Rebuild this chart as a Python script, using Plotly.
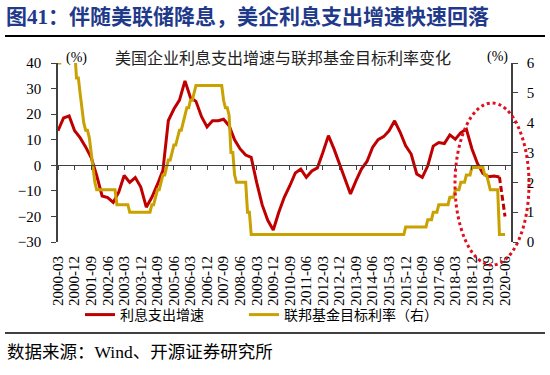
import pandas as pd
import plotly.graph_objects as go

# ---------------- data ----------------
quarters = pd.date_range("2000-03-01", "2020-06-01", freq="3MS")  # 2000-03 ... 2020-06

interest_growth = [
    13.5, 18.5, 19.3, 13.5, 10.8, 7.2, 3.0, -4.0, -12.0, -12.6,
    -14.5, -10.5, -4.0, -6.7, -4.8, -8.5, -16.4, -12.5, -7.5, -2.0,
    17.5, 22.0, 25.5, 33.0, 26.5, 25.0, 19.0, 15.0, 17.4, 17.4,
    18.0, 15.5, 10.0, 6.4, 4.0, 3.1, -6.7, -15.5, -21.5, -25.3,
    -18.5, -12.5, -8.0, -3.0, -1.5, -4.7, -2.2, -1.0, 5.0, 11.6,
    6.4, 0.5, -6.0, -11.2, -6.0, -1.4, 1.5, 7.0, 10.0, 11.2,
    13.5, 17.4, 12.9, 7.6, 4.4, -3.4, -4.7, -0.2, 7.5, 8.9,
    8.5, 11.9, 10.2, 12.8, 14.1, 6.5, 0.8, -3.2, -4.5, -4.2,
    -4.6, -20.0,
]

months = pd.date_range("2000-03-01", "2020-06-01", freq="MS")
fed_2000 = [6.0, 6.0, 6.5, 6.5, 6.5, 6.5, 6.5, 6.5, 6.5, 6.5]  # Mar-Dec
fed_2001 = [5.5, 5.5, 5.0, 4.5, 4.0, 3.75, 3.75, 3.5, 3.0, 2.5, 2.0, 1.75]
fed_2002 = [1.75] * 10 + [1.25, 1.25]
fed_2003 = [1.25] * 5 + [1.0] * 7
fed_2004 = [1.0] * 5 + [1.25, 1.25, 1.5, 1.75, 1.75, 2.0, 2.25]
fed_2005 = [2.25, 2.5, 2.75, 2.75, 3.0, 3.25, 3.25, 3.5, 3.75, 3.75, 4.0, 4.25]
fed_2006 = [4.5, 4.5, 4.75, 4.75, 5.0] + [5.25] * 7
fed_2007 = [5.25] * 8 + [4.75, 4.5, 4.5, 4.25]
fed_2008 = [3.0, 3.0, 2.25, 2.0, 2.0, 2.0, 2.0, 2.0, 2.0, 1.0, 1.0, 0.25]
fed_2009_2014 = [0.25] * 72
fed_2015 = [0.25] * 11 + [0.5]
fed_2016 = [0.5] * 11 + [0.75]
fed_2017 = [0.75, 0.75, 1.0, 1.0, 1.0, 1.25, 1.25, 1.25, 1.25, 1.25, 1.25, 1.5]
fed_2018 = [1.5, 1.5, 1.75, 1.75, 1.75, 2.0, 2.0, 2.0, 2.25, 2.25, 2.25, 2.5]
fed_2019 = [2.5] * 6 + [2.25, 2.25, 2.0, 1.75, 1.75, 1.75]
fed_2020 = [1.75, 1.75, 0.25, 0.25, 0.25, 0.25]  # Jan-Jun
fed_rate = (fed_2000 + fed_2001 + fed_2002 + fed_2003 + fed_2004 + fed_2005 + fed_2006
            + fed_2007 + fed_2008 + fed_2009_2014 + fed_2015 + fed_2016 + fed_2017
            + fed_2018 + fed_2019 + fed_2020)

tick_dates = quarters[::3]
tick_labels = [d.strftime("%Y-%m") for d in tick_dates]

title_text = "图41：伴随美联储降息，美企利息支出增速快速回落"
chart_title = "美国企业利息支出增速与联邦基金目标利率变化"
name_red = "利息支出增速"
name_gold = "联邦基金目标利率（右）"
source_text = "数据来源：Wind、开源证券研究所"

# ---------------- style ----------------
RED = "#C00000"
GOLD = "#C9A100"
AX = "#404040"
SERIF = "Liberation Serif, Noto Sans CJK SC"
SANS = "Noto Sans CJK SC"

W, H = 550, 375
L, R, T, B = 58, 39, 63, 133
PW, PH = W - L - R, H - T - B


def xp(px):
    return (px - L) / PW


def yp(py):
    return (H - B - py) / PH


x_range = ["2000-03-01", "2020-09-08"]

fig = go.Figure()

# solid part of interest growth
fig.add_trace(go.Scatter(
    x=quarters[:-1], y=interest_growth[:-1], mode="lines", name=name_red,
    line=dict(color=RED, width=3), xaxis="x", yaxis="y", legend="legend",
))
# last (dashed) segment
fig.add_trace(go.Scatter(
    x=quarters[-2:], y=interest_growth[-2:], mode="lines", showlegend=False,
    line=dict(color=RED, width=3, dash="6px,3px"), xaxis="x2", yaxis="y",
))
# fed funds
fig.add_trace(go.Scatter(
    x=months, y=fed_rate, mode="lines", name=name_gold,
    line=dict(color=GOLD, width=3), xaxis="x", yaxis="y2", legend="legend2",
))

fig.update_layout(
    width=W, height=H, autosize=False,
    margin=dict(l=L, r=R, t=T, b=B, pad=0),
    paper_bgcolor="white", plot_bgcolor="white",
    font=dict(family=SERIF, color="black", size=14),
    xaxis=dict(
        type="date", range=x_range, showgrid=False, zeroline=False, showline=False,
        ticks="", tickvals=tick_dates, ticktext=tick_labels, tickangle=-90,
        tickfont=dict(family=SERIF, size=15, color="black"), ticklabelstandoff=10,
    ),
    xaxis2=dict(
        type="date", range=x_range, overlaying="x", anchor="free", position=3 / 7,
        showgrid=False, zeroline=False, showline=True, linecolor=AX, linewidth=1.2,
        ticks="outside", ticklen=4, tickwidth=1.2, tickcolor=AX,
        tickvals=tick_dates, showticklabels=False,
    ),
    yaxis=dict(
        range=[-30, 40], dtick=10, tick0=0, showgrid=False, zeroline=False,
        showline=True, linecolor=AX, linewidth=1.5, ticks="outside", ticklen=5,
        tickwidth=1.2, tickcolor=AX, tickfont=dict(family=SERIF, size=15),
        ticklabelstandoff=7,
    ),
    yaxis2=dict(
        range=[0, 6], dtick=1, tick0=0, overlaying="y", side="right", anchor="x",
        showgrid=False, zeroline=False, showline=True, linecolor=AX, linewidth=1.5,
        ticks="outside", ticklen=5, tickwidth=1.2, tickcolor=AX,
        tickfont=dict(family=SERIF, size=15), ticklabelstandoff=6,
    ),
    legend=dict(
        x=xp(80), y=yp(315), xanchor="left", yanchor="middle", orientation="h",
        font=dict(family=SANS, size=14, color="black"), bgcolor="rgba(0,0,0,0)",
    ),
    legend2=dict(
        x=xp(244), y=yp(315), xanchor="left", yanchor="middle", orientation="h",
        font=dict(family=SANS, size=14, color="black"), bgcolor="rgba(0,0,0,0)",
    ),
    showlegend=True,
)

annotations = [
    dict(text=f"<b>{title_text}</b>", x=xp(4), y=yp(17), xanchor="left", yanchor="middle",
         font=dict(family=SERIF, size=21, color="#1F3A8A")),
    dict(text=chart_title, x=xp(283), y=yp(57), xanchor="center", yanchor="middle",
         font=dict(family=SANS, size=16, color="#222222")),
    dict(text="(%)", x=xp(76), y=yp(58), xanchor="center", yanchor="middle",
         font=dict(family=SERIF, size=14, color="black")),
    dict(text="(%)", x=xp(497), y=yp(57), xanchor="center", yanchor="middle",
         font=dict(family=SERIF, size=14, color="black")),
    dict(text=source_text, x=xp(5), y=yp(352), xanchor="left", yanchor="middle",
         font=dict(family=SERIF, size=17.5, color="black")),
]
for a in annotations:
    a.update(xref="paper", yref="paper", showarrow=False)
fig.update_layout(annotations=annotations)

shapes = [
    dict(type="line", x0=xp(5), x1=xp(545), y0=yp(36), y1=yp(36),
         line=dict(color="black", width=2)),
    dict(type="line", x0=xp(5), x1=xp(545), y0=yp(333), y1=yp(333),
         line=dict(color="black", width=1.5)),
    dict(type="circle", x0=xp(455), x1=xp(529), y0=yp(265), y1=yp(103),
         line=dict(color="#E01020", width=3, dash="3px,3px")),
]
for s in shapes:
    s.update(xref="paper", yref="paper", layer="above")
fig.update_layout(shapes=shapes)

fig.write_html("out.html", post_script="document.body.style.margin='0';",
               config={"displayModeBar": False})
